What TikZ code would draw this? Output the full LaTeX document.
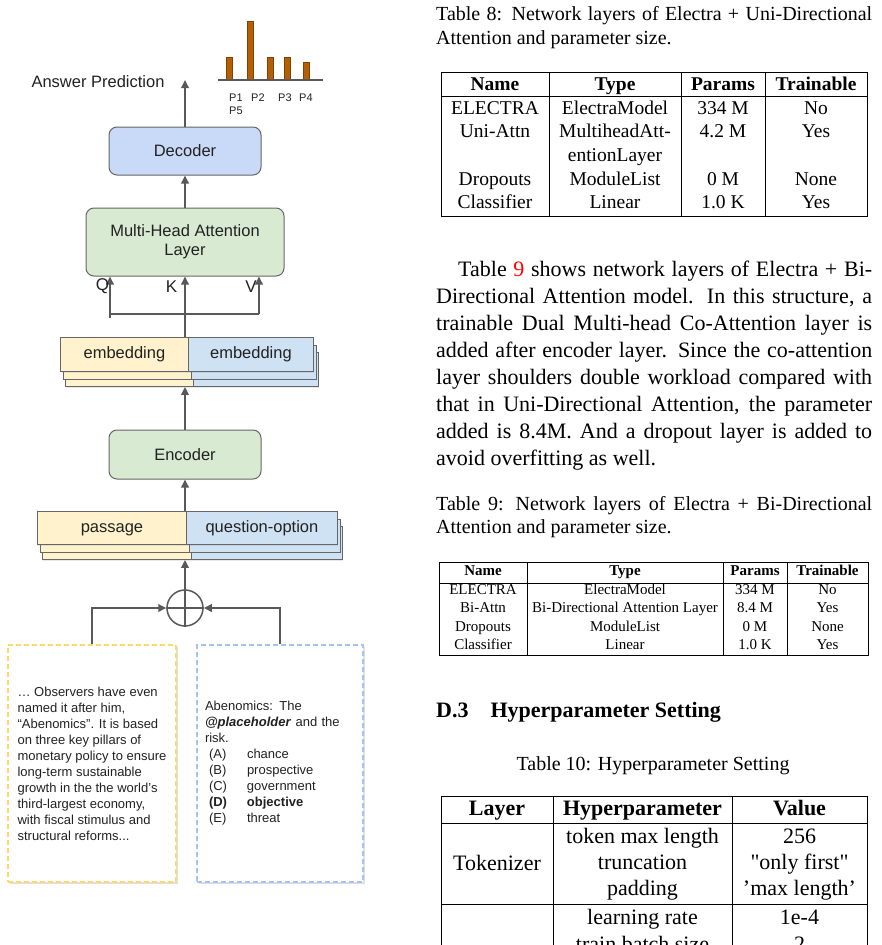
\documentclass[tikz,border=0pt]{standalone}
\usepackage{fontspec}
\setmainfont{Liberation Serif}
\newfontfamily\arial{Liberation Sans}
\newfontfamily\rawserif[Ligatures=TeXOff]{Liberation Serif}
\usetikzlibrary{arrows.meta,shadows}
\newcommand\myfs[2]{\fontsize{#1pt}{#2pt}\selectfont}
\newcommand\optline[2]{\hspace*{4pt}\makebox[38pt][l]{#1}#2}
\definecolor{decblue}{HTML}{C9DAF8}
\definecolor{lgreen}{HTML}{D9EAD3}
\definecolor{lyellow}{HTML}{FFF2CC}
\definecolor{lblue}{HTML}{CFE2F3}
\definecolor{dyellow}{HTML}{FFD966}
\definecolor{dblue}{HTML}{A4C2F4}
\definecolor{bargold}{HTML}{B45F06}
\definecolor{edgec}{HTML}{666666}
\definecolor{arrowc}{HTML}{595959}
\definecolor{txtc}{HTML}{222222}
\tikzset{
  box/.style={draw=edgec, line width=1pt, rounded corners=8pt, font=\arial\myfs{16.5}{19}, text=txtc, align=center, inner sep=0},
  layer/.style={draw=edgec, line width=0.9pt, inner sep=0, anchor=north west, font=\arial\myfs{16.5}{19}, text=txtc,
    text height=9pt, text depth=0pt,
    drop shadow={opacity=0.18, shadow xshift=1pt, shadow yshift=-1.5pt}},
  arr/.style={draw=arrowc, line width=1.8pt, -{Triangle[length=8pt,width=7.5pt]}},
  plain/.style={draw=arrowc, line width=1.8pt},
  dbox/.style={dashed, dash pattern=on 5pt off 3pt, line width=1.3pt, fill=white, inner xsep=9pt, inner ysep=0pt,
    font=\arial\myfs{13}{16}, align=left, text=txtc,
    drop shadow={opacity=0.25, shadow xshift=1.5pt, shadow yshift=-2pt}},
  lbl/.style={font=\arial\myfs{17}{19}, text=txtc, inner sep=0},
  plbl/.style={font=\arial\myfs{11}{13}, text=txtc, inner sep=0, anchor=base west},
  tl/.style={line width=0.9pt, black},
  txt/.style={anchor=base west, inner sep=0},
  c8/.style={anchor=base, inner sep=0, font=\myfs{19.5}{24}},
  c9/.style={anchor=base, inner sep=0, font=\myfs{15}{18}},
  c10/.style={anchor=base, inner sep=0, font=\myfs{22}{26}},
}
\begin{document}
\begin{tikzpicture}[x=1pt,y=-1pt]
\useasboundingbox (0,0) rectangle (881,945);
\clip (0,0) rectangle (881,945);
\fill[white] (0,0) rectangle (881,945);

% ---------------- left diagram ----------------
\node[box, fill=decblue, minimum width=152pt, minimum height=48pt] (dec) at (185,151) {Decoder};
\node[box, fill=lgreen, minimum width=198pt, minimum height=68pt] (mha) at (185,242) {Multi-Head Attention\\Layer};
\node[box, fill=lgreen, minimum width=152pt, minimum height=49pt] (enc) at (185,454.5) {Encoder};

% embedding stack
\node[layer, fill=lyellow, minimum width=128pt, minimum height=34pt] (emL3) at (65,352) {};
\node[layer, fill=lblue, minimum width=125pt, minimum height=34pt] (emR3) at (193,352) {};
\node[layer, fill=lyellow, minimum width=128pt, minimum height=34pt] (emL2) at (62.5,344.5) {};
\node[layer, fill=lblue, minimum width=125pt, minimum height=34pt] (emR2) at (190.5,344.5) {};
\node[layer, fill=lyellow, minimum width=128pt, minimum height=34pt] (emL1) at (60,337) {embedding};
\node[layer, fill=lblue, minimum width=125pt, minimum height=34pt] (emR1) at (188,337) {embedding};

% passage stack
\node[layer, fill=lyellow, minimum width=149pt, minimum height=33pt] (paL3) at (42,526) {};
\node[layer, fill=lblue, minimum width=151pt, minimum height=33pt] (paR3) at (191,526) {};
\node[layer, fill=lyellow, minimum width=149pt, minimum height=33pt] (paL2) at (39.5,518.5) {};
\node[layer, fill=lblue, minimum width=151pt, minimum height=33pt] (paR2) at (188.5,518.5) {};
\node[layer, fill=lyellow, minimum width=149pt, minimum height=33pt] (paL1) at (37,511) {passage};
\node[layer, fill=lblue, minimum width=151pt, minimum height=33pt] (paR1) at (186,511) {question-option};

% plus circle
\node[circle, draw=arrowc, line width=1.5pt, fill=white, minimum size=36pt, inner sep=0] (plus) at (185,608) {};
\draw[arrowc, line width=1.5pt] (plus.north) -- (plus.south) (plus.west) -- (plus.east);

% input boxes
\node[dbox, draw=dyellow, minimum width=168pt, minimum height=237pt] (lbox) at (92,763.5)
{… Observers have even\\named it after him,\\“Abenomics”. It is based\\on three key pillars of\\monetary policy to ensure\\long-term sustainable\\growth in the the world’s\\third-largest economy,\\with fiscal stimulus and\\structural reforms...};
\node[dbox, draw=dblue, minimum width=166pt, minimum height=237pt, text width=150pt, inner xsep=8pt] (rbox) at (280,763.5)
{Abenomics: The\\\textbf{\textit{@placeholder}} and the\\risk.\\\optline{(A)}{chance}\\\optline{(B)}{prospective}\\\optline{(C)}{government}\\\optline{\textbf{(D)}}{\textbf{objective}}\\\optline{(E)}{threat}};

% connectors
\draw[arr] (lbox.north) |- (plus.west);
\draw[arr] (rbox.north) |- (plus.east);
\draw[arr] (plus.north) -- (plus.north |- paL3.south);
\draw[arr] (enc.north |- paL1.north) -- (enc.south);
\draw[arr] (enc.north) -- (enc.north |- emL3.south);
\draw[arr] (mha.south |- emL1.north) -- (mha.south);
\coordinate (qb) at (110,318);
\coordinate (vb) at (259,314);
\draw[arr] (qb) -- (qb |- mha.south);
\draw[arr] (vb) -- (vb |- mha.south);
\draw[plain] (qb |- vb) -- (vb);
\draw[arr] (mha.north) -- (dec.south);
\coordinate (ans) at (185,80);
\draw[arr] (dec.north) -- (ans);

\node[lbl] (ql) at (102.5,286.5) {Q};
\node[lbl] (kl) at (171.5,286.5) {K};
\node[lbl] (vl) at (251,286.5) {V};
\node[font=\arial\myfs{16.5}{19}, text=txtc, inner sep=0] (ap) at (98,82) {Answer Prediction};

% bar chart
\foreach \x/\t in {229/57,250/21,270/57,287/57,306/62}
  \draw[fill=bargold, draw=bargold!70!black, line width=0.6pt] ({\x-3},79) rectangle ({\x+3},\t);
\draw[arrowc, line width=1.5pt] (218,80) -- (323,80);
\node[plbl] (p1) at (229,101) {P1};
\node[plbl] (p2) at (251,101) {P2};
\node[plbl] (p3) at (278,101) {P3};
\node[plbl] (p4) at (299,101) {P4};
\node[plbl] (p5) at (229,114) {P5};

% ---------------- right column ----------------
\node[txt] (c8a) at (436,20) {\myfs{20}{24}\makebox[436pt][s]{Table 8: Network layers of Electra + Uni-Directional}};
\node[txt] (c8b) at (436,44) {\myfs{20}{24}Attention and parameter size.};

% table 8
\draw[tl] (441,72) rectangle (867,216);
\draw[tl] (441,96) -- (867,96);
\foreach \x in {549,681,765} \draw[tl] (\x,72) -- (\x,216);
\node[c8] (t8h1) at (495,90) {\bfseries Name};
\node[c8] (t8h2) at (615,90) {\bfseries Type};
\node[c8] (t8h3) at (723,90) {\bfseries Params};
\node[c8] (t8h4) at (816,90) {\bfseries Trainable};
\foreach \y/\a/\b/\c/\d [count=\i] in {114/ELECTRA/ElectraModel/334 M/No, 137/Uni-Attn/MultiheadAtt-/4.2 M/Yes, 185/Dropouts/ModuleList/0 M/None, 208/Classifier/Linear/1.0 K/Yes}{
  \node[c8] (t8r\i a) at (495,\y) {\a};
  \node[c8] (t8r\i b) at (615,\y) {\b};
  \node[c8] (t8r\i c) at (723,\y) {\c};
  \node[c8] (t8r\i d) at (816,\y) {\d};
}
\node[c8] (t8x) at (615,161) {entionLayer};

% paragraph
\node[txt] (pa1) at (458,276) {\myfs{22}{27}\makebox[414pt][s]{Table {\color{red}9} shows network layers of Electra + Bi-}};
\node[txt] (pa2) at (436,303) {\myfs{22}{27}\makebox[436pt][s]{Directional Attention model. In this structure, a}};
\node[txt] (pa3) at (436,330) {\myfs{22}{27}\makebox[436pt][s]{trainable Dual Multi-head Co-Attention layer is}};
\node[txt] (pa4) at (436,357) {\myfs{22}{27}\makebox[436pt][s]{added after encoder layer. Since the co-attention}};
\node[txt] (pa5) at (436,384) {\myfs{22}{27}\makebox[436pt][s]{layer shoulders double workload compared with}};
\node[txt] (pa6) at (436,411) {\myfs{22}{27}\makebox[436pt][s]{that in Uni-Directional Attention, the parameter}};
\node[txt] (pa7) at (436,438) {\myfs{22}{27}\makebox[436pt][s]{added is 8.4M. And a dropout layer is added to}};
\node[txt] (pa8) at (436,465) {\myfs{22}{27}avoid overfitting as well.};

\node[txt] (c9a) at (436,510) {\myfs{20}{24}\makebox[436pt][s]{Table 9: Network layers of Electra + Bi-Directional}};
\node[txt] (c9b) at (436,533) {\myfs{20}{24}Attention and parameter size.};

% table 9
\draw[tl] (439,562) rectangle (868,655);
\draw[tl] (439,583) -- (868,583);
\foreach \x in {527,723,787} \draw[tl] (\x,562) -- (\x,655);
\node[c9] (t9h1) at (483,575) {\bfseries Name};
\node[c9] (t9h2) at (625,575) {\bfseries Type};
\node[c9] (t9h3) at (755,575) {\bfseries Params};
\node[c9] (t9h4) at (827.5,575) {\bfseries Trainable};
\foreach \y/\a/\b/\c/\d [count=\i] in {594/ELECTRA/ElectraModel/334 M/No, 612/Bi-Attn/Bi-Directional Attention Layer/8.4 M/Yes, 631/Dropouts/ModuleList/0 M/None, 649/Classifier/Linear/1.0 K/Yes}{
  \node[c9] (t9r\i a) at (483,\y) {\a};
  \node[c9] (t9r\i b) at (625,\y) {\b};
  \node[c9] (t9r\i c) at (755,\y) {\c};
  \node[c9] (t9r\i d) at (827.5,\y) {\d};
}

\node[txt] (d3) at (436,717) {\myfs{22}{27}\bfseries D.3\hspace{22pt}Hyperparameter Setting};
\node[anchor=base, inner sep=0] (c10) at (653,770) {\myfs{20}{24}Table 10: Hyperparameter Setting};

% table 10
\draw[tl] (441,960) -- (441,796) -- (867,796) -- (867,960);
\draw[tl] (441,823) -- (867,823);
\draw[tl] (441,904) -- (867,904);
\foreach \x in {553,732} \draw[tl] (\x,796) -- (\x,960);
\node[c10] (t10h1) at (497,815) {\bfseries Layer};
\node[c10] (t10h2) at (642.5,815) {\bfseries Hyperparameter};
\node[c10] (t10h3) at (799.5,815) {\bfseries Value};
\node[c10] (t10tok) at (497,870) {Tokenizer};
\foreach \y/\b/\c [count=\i] in {843/token max length/256, 869/truncation/{\rawserif"only first"}, 895/padding/’max length’, 924/learning rate/1e-4, 951/train batch size/2}{
  \node[c10] (t10r\i b) at (642.5,\y) {\b};
  \node[c10] (t10r\i c) at (799.5,\y) {\c};
}
\end{tikzpicture}
\end{document}
